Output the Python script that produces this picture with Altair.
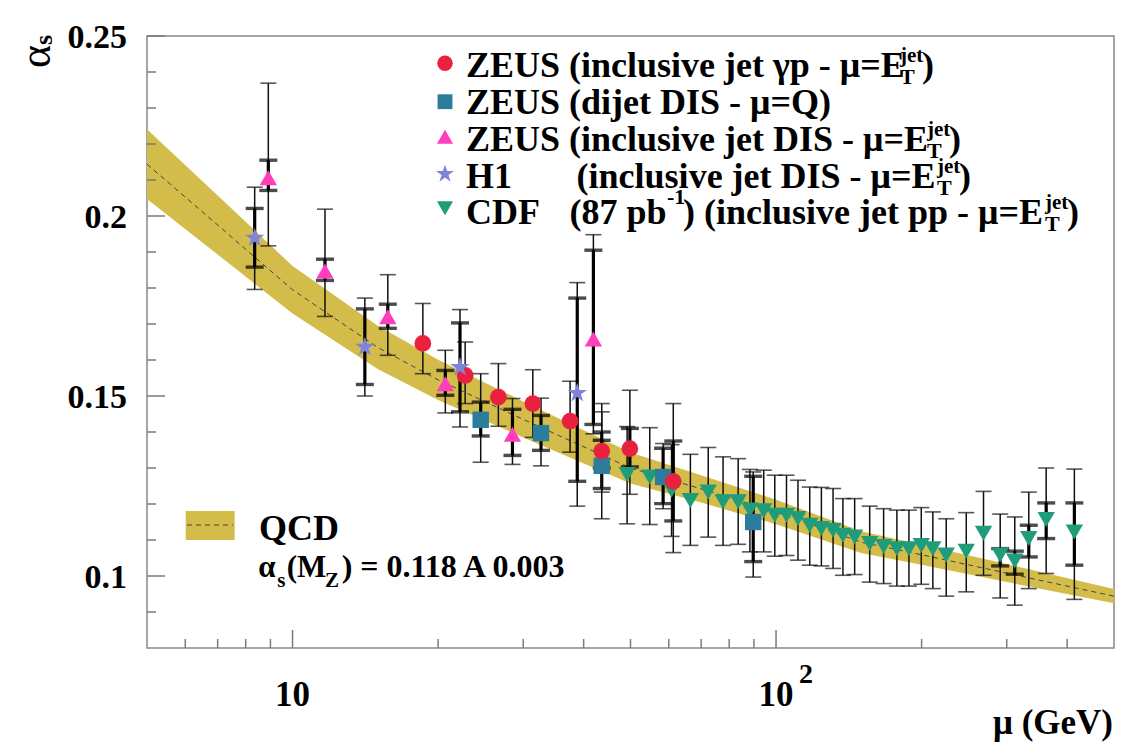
import altair as alt
import pandas as pd

SERIF = "Liberation Serif"

# ---------------- data ----------------
# QCD band (alpha_s(M_Z) = 0.118 +- 0.003)
band_mu = [5, 7, 10, 15, 20, 30, 50, 70, 100, 150, 200, 300, 500]
band_mid = [0.2144, 0.1975, 0.1795, 0.1635, 0.1545, 0.1435, 0.1300, 0.1242, 0.1178, 0.1094, 0.1059, 0.1008, 0.0944]
band_lo = [0.2047, 0.1893, 0.1729, 0.1575, 0.1489, 0.1385, 0.1257, 0.1204, 0.1144, 0.1064, 0.1031, 0.0983, 0.0924]
band_hi = [0.2241, 0.2057, 0.1861, 0.1695, 0.1601, 0.1485, 0.1343, 0.1280, 0.1212, 0.1124, 0.1087, 0.1033, 0.0964]

# ZEUS inclusive jet gamma-p
zg_mu = [18.6, 22.75, 26.65, 31.4, 37.5, 43.6, 49.85, 61.3]
zg_a = [0.1646, 0.1557, 0.1497, 0.1479, 0.1430, 0.1347, 0.1354, 0.1263]
zg_slo = [None, None, None, None, None, 0.1300, 0.1303, 0.1153]
zg_shi = [None, None, None, None, None, 0.1400, 0.1410, 0.1375]
zg_tlo = [0.1562, 0.1479, 0.1416, 0.1385, 0.1344, 0.1233, 0.1227, 0.1065]
zg_thi = [0.1757, 0.1650, 0.1590, 0.1573, 0.1541, 0.1456, 0.1516, 0.1479]

# ZEUS dijet DIS
zd_mu = [24.5, 32.65, 43.6, 58.4, 89.7]
zd_a = [0.1434, 0.1397, 0.1306, 0.1275, 0.1150]
zd_slo = [0.1389, 0.1349, 0.1243, 0.1201, 0.1040]
zd_shi = [0.1483, 0.1446, 0.1377, 0.1355, 0.1277]
zd_tlo = [0.1316, 0.1306, 0.1159, 0.1187, 0.0997]
zd_thi = [0.1562, 0.1494, 0.1479, 0.1368, 0.1289]

# ZEUS inclusive jet DIS
zi_mu = [8.91, 11.67, 15.74, 20.7, 28.5, 41.9]
zi_a = [0.2106, 0.1847, 0.1720, 0.1534, 0.1394, 0.1658]
zi_slo = [0.2071, 0.1821, 0.1688, 0.1502, 0.1335, 0.1421]
zi_shi = [0.2155, 0.1880, 0.1755, 0.1571, 0.1463, 0.1905]
zi_tlo = [0.1917, 0.1721, 0.1613, 0.1453, 0.1310, 0.1395]
zi_thi = [0.2369, 0.2019, 0.1837, 0.1627, 0.1493, 0.1948]

# H1 inclusive jet DIS
h1_mu = [8.35, 14.11, 22.2, 38.8]
h1_a = [0.1939, 0.1636, 0.1580, 0.1508]
h1_slo = [0.1858, 0.1532, 0.1456, 0.1263]
h1_shi = [0.2021, 0.1742, 0.1703, 0.1772]
h1_tlo = [0.1796, 0.1500, 0.1414, 0.1194]
h1_thi = [0.2080, 0.1772, 0.1740, 0.1815]

# CDF inclusive jet p-pbar (87 pb^-1)
cdf_mu = [49.2, 54.8, 60.8, 66.5, 72.4, 77.7, 83.5, 88.3, 94.3, 99.4, 105.1, 111.0, 117.4,
          124.1, 131.2, 137.5, 145.4, 156.2, 166.9, 177.8, 188.3, 199.7, 211.0, 224.9,
          247.4, 268.6, 290.8, 311.7, 333.2, 362.0, 414.0]
cdf_a = [0.1282, 0.1275, 0.1238, 0.1210, 0.1233, 0.1206, 0.1206, 0.1183, 0.1181, 0.1169, 0.1169,
         0.1160, 0.1141, 0.1132, 0.1127, 0.1113, 0.1108, 0.1090, 0.1082, 0.1076, 0.1076, 0.1085,
         0.1076, 0.1058, 0.1069, 0.1119, 0.1058, 0.1042, 0.1104, 0.1157, 0.1122]
cdf_tlo = [0.1145, 0.1143, 0.1110, 0.1085, 0.1108, 0.1085, 0.1088, 0.1067, 0.1067, 0.1055, 0.1057,
           0.1044, 0.1030, 0.1028, 0.1021, 0.1002, 0.1004, 0.0983, 0.0979, 0.0972, 0.0972, 0.0977,
           0.0965, 0.0944, 0.0956, 0.1002, 0.0939, 0.0919, 0.0965, 0.1007, 0.0935]
cdf_thi = [0.1415, 0.1412, 0.1365, 0.1338, 0.1357, 0.1331, 0.1326, 0.1296, 0.1294, 0.1280, 0.1280,
           0.1266, 0.1247, 0.1246, 0.1243, 0.1215, 0.1215, 0.1194, 0.1187, 0.1183, 0.1183, 0.1190,
           0.1178, 0.1159, 0.1176, 0.1235, 0.1172, 0.1164, 0.1233, 0.1300, 0.1297]
cdf_slo = [None] * 26 + [0.1028, 0.1005, 0.1053, 0.1104, 0.1030]
cdf_shi = [None] * 26 + [0.1076, 0.1069, 0.1141, 0.1203, 0.1203]

# axis ticks and labels
ytick_major = [0.10, 0.15, 0.20, 0.25]
ytick_minor = [0.09, 0.11, 0.12, 0.13, 0.14, 0.16, 0.17, 0.18, 0.19, 0.21, 0.22, 0.23, 0.24]
ytick_labels = ["0.1", "0.15", "0.2", "0.25"]
xtick_major = [10, 100]
xtick_minor = [6, 7, 8, 9, 20, 30, 40, 50, 60, 70, 80, 90, 200, 300, 400]
xtick_labels = ["10", "10"]

legend_labels = [
    "ZEUS (inclusive jet \u03b3p - \u03bc=E",
    "ZEUS (dijet DIS - \u03bc=Q)",
    "ZEUS (inclusive jet DIS - \u03bc=E",
    "H1",
    "CDF",
]

# ---------------- styling ----------------
W, H = 967, 612
BAND = "#d4bc4a"
RED, BLUE, PINK, STARC, GREEN = "#e8213f", "#2c7c9c", "#ff3dbd", "#7e84da", "#1f9d7a"
STAR = ("M0,-1 L0.2245,-0.309 L0.9511,-0.309 L0.3633,0.118 L0.5878,0.809 L0,0.382 "
        "L-0.5878,0.809 L-0.3633,0.118 L-0.9511,-0.309 L-0.2245,-0.309 Z")
TICKC = "#7a7a7a"

XS = alt.Scale(type="log", domain=[5, 500], nice=False)
YS = alt.Scale(type="linear", domain=[0.08, 0.25], nice=False, zero=False)


def X(f="mu"):
    return alt.X(f"{f}:Q", scale=XS, axis=None)


def Y(f):
    return alt.Y(f"{f}:Q", scale=YS, axis=None)


def series_df(mu, a, slo, shi, tlo, thi):
    return pd.DataFrame({"mu": mu, "a": a, "slo": slo, "shi": shi, "tlo": tlo, "thi": thi})


def err_layers(df):
    out = []
    out.append(alt.Chart(df).mark_rule(color="#111", strokeWidth=1.5).encode(
        x=X(), y=Y("tlo"), y2="thi"))
    for f in ["tlo", "thi"]:
        out.append(alt.Chart(df).mark_tick(orient="horizontal", size=16, thickness=1.6,
                                           color="#111").encode(x=X(), y=Y(f)))
    sdf = df.dropna(subset=["slo"])
    if len(sdf):
        out.append(alt.Chart(sdf).mark_rule(color="#000", strokeWidth=3.2).encode(
            x=X(), y=Y("slo"), y2="shi"))
        for f in ["slo", "shi"]:
            out.append(alt.Chart(sdf).mark_tick(orient="horizontal", size=18, thickness=3.4,
                                                color="#000").encode(x=X(), y=Y(f)))
    return out


def marker_layer(df, shape, color, size):
    return alt.Chart(df).mark_point(filled=True, shape=shape, color=color, size=size,
                                    opacity=1, strokeWidth=0).encode(x=X(), y=Y("a"))


def txt(text, x, y, size, align="left", angle=0, weight="bold"):
    return alt.Chart(pd.DataFrame({"t": [text]})).mark_text(
        font=SERIF, fontSize=size, fontWeight=weight, align=align, baseline="alphabetic",
        angle=angle, color="#000").encode(x=alt.value(x), y=alt.value(y), text="t:N")


def legend_marker(shape, color, size, x, y):
    return alt.Chart(pd.DataFrame({"k": [0]})).mark_point(
        filled=True, shape=shape, color=color, size=size, opacity=1, strokeWidth=0).encode(
        x=alt.value(x), y=alt.value(y))


def scripts(x, base):
    """E^{jet}_{T} followed by a closing parenthesis, starting at x."""
    return [txt("jet", x + 1, base - 15, 21), txt("T", x + 1, base + 7, 22),
            txt(")", x + 23, base, 36)]


band_df = pd.DataFrame({"mu": band_mu, "lo": band_lo, "hi": band_hi, "mid": band_mid})
zg = series_df(zg_mu, zg_a, zg_slo, zg_shi, zg_tlo, zg_thi)
zd = series_df(zd_mu, zd_a, zd_slo, zd_shi, zd_tlo, zd_thi)
zi = series_df(zi_mu, zi_a, zi_slo, zi_shi, zi_tlo, zi_thi)
h1 = series_df(h1_mu, h1_a, h1_slo, h1_shi, h1_tlo, h1_thi)
cdf = series_df(cdf_mu, cdf_a, cdf_slo, cdf_shi, cdf_tlo, cdf_thi)

layers = []
layers.append(alt.Chart(band_df).mark_area(color=BAND, opacity=1).encode(
    x=X(), y=Y("lo"), y2="hi"))
layers.append(alt.Chart(band_df).mark_line(color="#444", strokeWidth=1, strokeDash=[5, 4]).encode(
    x=X(), y=Y("mid")))

for d in [cdf, zd, zg, zi, h1]:
    layers += err_layers(d)

layers.append(marker_layer(cdf, "triangle-down", GREEN, 300))
layers.append(marker_layer(zd, "square", BLUE, 270))
layers.append(marker_layer(zg, "circle", RED, 280))
layers.append(marker_layer(zi, "triangle-up", PINK, 300))
layers.append(marker_layer(h1, STAR, STARC, 420))

# axis ticks (inward)
ymaj = pd.DataFrame({"v": ytick_major})
ymin = pd.DataFrame({"v": ytick_minor})
xmaj = pd.DataFrame({"v": xtick_major})
xmin = pd.DataFrame({"v": xtick_minor})
layers.append(alt.Chart(ymaj).mark_rule(color=TICKC, strokeWidth=1.5).encode(
    y=Y("v"), x=alt.value(0), x2=alt.value(18)))
layers.append(alt.Chart(ymin).mark_rule(color=TICKC, strokeWidth=1.5).encode(
    y=Y("v"), x=alt.value(0), x2=alt.value(9)))
layers.append(alt.Chart(xmaj).mark_rule(color=TICKC, strokeWidth=1.5).encode(
    x=X("v"), y=alt.value(H), y2=alt.value(H - 18)))
layers.append(alt.Chart(xmin).mark_rule(color=TICKC, strokeWidth=1.5).encode(
    x=X("v"), y=alt.value(H), y2=alt.value(H - 9)))

# tick labels
layers.append(alt.Chart(pd.DataFrame({"v": ytick_major, "t": ytick_labels})).mark_text(
    font=SERIF, fontSize=34, fontWeight="bold", align="right", baseline="alphabetic", dy=12,
    color="#000").encode(x=alt.value(-20), y=Y("v"), text="t:N"))
layers.append(alt.Chart(pd.DataFrame({"v": xtick_major, "t": xtick_labels})).mark_text(
    font=SERIF, fontSize=35, fontWeight="bold", align="center", baseline="alphabetic",
    color="#000").encode(x=X("v"), y=alt.value(670), text="t:N"))
layers.append(alt.Chart(pd.DataFrame({"v": [100], "t": ["2"]})).mark_text(
    font=SERIF, fontSize=28, fontWeight="bold", align="center", baseline="alphabetic", dx=30,
    color="#000").encode(x=X("v"), y=alt.value(647), text="t:N"))

# axis titles
layers.append(txt("\u03b1", -97, 32, 44, angle=270, weight="normal"))
layers.append(txt("s", -95, 9, 26, angle=270, weight="bold"))
layers.append(txt("\u03bc (GeV)", 966, 698, 35, align="right"))

# legend (top right)
mk_x = 298
mk_y = [27.3, 65.7, 100.7, 138, 172.3]
base = [41, 78, 115, 152, 188]
tx = 319
layers.append(legend_marker("circle", RED, 240, mk_x, mk_y[0]))
layers.append(legend_marker("square", BLUE, 220, mk_x, mk_y[1]))
layers.append(legend_marker("triangle-up", PINK, 260, mk_x, mk_y[2]))
layers.append(legend_marker(STAR, STARC, 360, mk_x, mk_y[3]))
layers.append(legend_marker("triangle-down", GREEN, 260, mk_x, mk_y[4]))

layers.append(txt(legend_labels[0], tx, base[0], 36))
layers += scripts(752, base[0])
layers.append(txt(legend_labels[1], tx, base[1], 36))
layers.append(txt(legend_labels[2], tx, base[2], 36))
layers += scripts(779, base[2])
layers.append(txt(legend_labels[3], tx, base[3], 36))
layers.append(txt("(inclusive jet DIS - \u03bc=E", 429.6, base[3], 36))
layers += scripts(789, base[3])
layers.append(txt(legend_labels[4], tx, base[4], 36))
layers.append(txt("(87 pb", 422.4, base[4], 36))
layers.append(txt("-1", 520, base[4] - 20, 22))
layers.append(txt(") (inclusive jet pp - \u03bc=E", 536, base[4], 36))
layers += scripts(897, base[4])

# QCD legend (bottom left)
layers.append(alt.Chart(pd.DataFrame({"k": [0]})).mark_rect(color=BAND).encode(
    x=alt.value(38.7), x2=alt.value(87.7), y=alt.value(475), y2=alt.value(504)))
layers.append(alt.Chart(pd.DataFrame({"k": [0]})).mark_rule(
    color="#444", strokeWidth=1, strokeDash=[5, 4]).encode(
    x=alt.value(40), x2=alt.value(86), y=alt.value(489)))
layers.append(txt("QCD", 112, 504, 36))
layers.append(txt("\u03b1", 111.3, 540.7, 31))
layers.append(txt("s", 130.3, 550.7, 21))
layers.append(txt("(M", 139.7, 540.7, 31))
layers.append(txt("Z", 178, 550.7, 21))
layers.append(txt(") = 0.118 A 0.003", 194.7, 540.7, 32))

chart = alt.layer(*layers).properties(
    width=W, height=H,
    padding={"left": 139, "top": 28, "right": 10, "bottom": 94},
    autosize=alt.AutoSizeParams(type="none"),
    background="white",
).configure_view(stroke="#888", strokeWidth=1.5)

chart.save("out.html", embed_options={"renderer": "svg", "actions": False})
